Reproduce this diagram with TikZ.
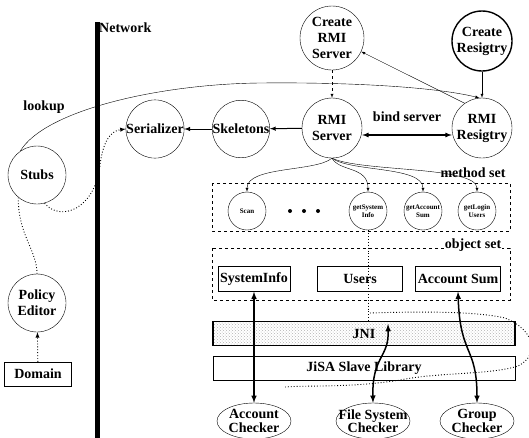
\documentclass[tikz,border=0pt]{standalone}
\usepackage{fontspec}
\setmainfont{Liberation Serif}
\usetikzlibrary{patterns,shapes.geometric}

\begin{document}
\begin{tikzpicture}[x=1pt,y=-1pt,
  font=\fontsize{14}{16}\selectfont\bfseries,
  proc/.style={draw, circle, inner sep=0pt, minimum size=#1, align=center},
  proc/.default=60pt,
  meth/.style={draw, circle, inner sep=0pt, minimum size=38pt, align=center,
    font=\fontsize{7}{8}\selectfont\bfseries},
  obj/.style={draw, rectangle, inner sep=0pt, minimum height=25pt},
  layer/.style={draw, rectangle, inner sep=0pt, minimum width=302pt, minimum height=24pt},
  checker/.style={draw, ellipse, inner xsep=-12pt, inner ysep=-8pt, minimum width=74pt,
    minimum height=36pt, align=center, font=\fontsize{14}{13.5}\selectfont\bfseries},
  link/.style={latex-latex, line width=1.5pt},
  dots/.style={dotted, line width=0.9pt}]
        \useasboundingbox (0,0) rectangle (529,437);
        \def \by {211}

        % network
        \node[anchor=west, inner sep=0pt] at (99,28) (net) {Network};
        \coordinate (ntop) at (97,22);
        \coordinate (nbot) at (97,440);
        \draw[line width=5pt] (ntop) -- (nbot);

        \node[proc=64pt] at (332,38) (crsrv) {Create\\RMI\\Server};
        \node[proc, line width=1.4pt] at (482,41) (crreg) {Create\\Resigtry};
        \node[proc] at (332,128) (rmisrv) {RMI\\Server};
        \node[proc] at (482,128) (rmireg) {RMI\\Resigtry};
        \node[proc=56pt] at (241,129) (skel) {Skeletons};
        \node[proc=56pt] at (155,129) (serial) {Serializer};
        \node[proc=58pt] at (37,175) (stubs) {Stubs};
        \node[proc=58pt] at (37,303) (policy) {Policy\\Editor};
        \node[draw, inner sep=0pt, minimum width=67pt, minimum height=24pt] at (38,374) (domain) {Domain};
        \node at (44,107) (lookup) {lookup};

        \draw[-latex, dashed] (crsrv) -- (rmisrv);
        \draw[-latex] (crreg) -- (rmireg);
        \draw[-latex] (rmireg.125) -- (crsrv.-25);
        \draw[latex-latex, line width=1.2pt] ([yshift=-7pt]rmisrv.east) -- ([yshift=-7pt]rmireg.west)
        node[midway, above=9pt] (bind) {bind server};
        \draw[-latex, line width=1pt] (rmisrv) -- (skel);
        \draw[-latex, line width=1pt] (skel) -- (serial);
        \draw[-latex] (stubs.125) .. controls (45,110) and (160,84) .. (260,83)
        .. controls (360,82) and (440,88) .. (rmireg.95);
        \draw[-latex, dots] (stubs.-75) .. controls (60,222) and (95,210) .. (100,165)
        .. controls (103,142) and (110,131) .. (serial.west);
        \draw[dots] (policy.north) .. controls (37,250) and (18,235) .. (stubs.-130);
        \draw[-latex, dots] (domain) -- (policy);

        % method set
        \draw[dashed] (212,183) rectangle (510,231);
        \node at (473,173) (mlbl) {method set};
        \foreach \t/\x [count=\i] in {Scan/247, {getSystem\\Info}/368, {getAccount\\Sum}/423, {getLogin\\Users}/477}{
          \node[meth] at (\x,\by) (m\i) {\t};
          \draw[-latex] (rmisrv.south) .. controls ({0.2*\x+266},172) and (\x,166) .. (m\i.north);
        }
        \foreach \x in {290,304,318}
          \fill (\x,\by) circle (2pt);

        % object set
        \draw[dashed] (212,248) rectangle (510,300);
        \node[fill=white, inner sep=1pt] at (473,245) (olbl) {object set};
        \node[obj, minimum width=72pt] at (254,279) (sysinfo) {SystemInfo};
        \node[obj, minimum width=85pt] at (360,279) (users) {Users};
        \node[obj, minimum width=85pt] at (458,279) (accsum) {Account Sum};

        \node[layer, line width=1.2pt, pattern=crosshatch dots, pattern color=gray!60] at (364,333.5) (jni) {JNI};
        \node[layer] at (364,368) (jisa) {JiSA Slave Library};
        \draw[dots] (m2.south) -- (m2.south |- jni.north);
        \coordinate (lp) at (370,313);
        \draw[dots] (lp) .. controls (430,311) and (480,312) .. (505,318)
        .. controls (535,330) and (540,355) .. (518,366)
        .. controls (490,375) and (440,372) .. (400,380)
        .. controls (350,388) and (310,385) .. (285,387);

        % checkers
        \node[checker] at (254,421) (acc) {Account\\Checker};
        \node[checker] at (373,421) (fsc) {File System\\Checker};
        \node[checker] at (477,421) (grp) {Group\\Checker};
        \coordinate (jnitop) at (388,324);
        \draw[link] (sysinfo) -- (acc);
        \draw[link] (jnitop) .. controls (389,358) and (372,356) .. (fsc.north);
        \draw[link] (accsum.south) .. controls (460,356) and (477,346) .. (grp.north);
\end{tikzpicture}
\end{document}
